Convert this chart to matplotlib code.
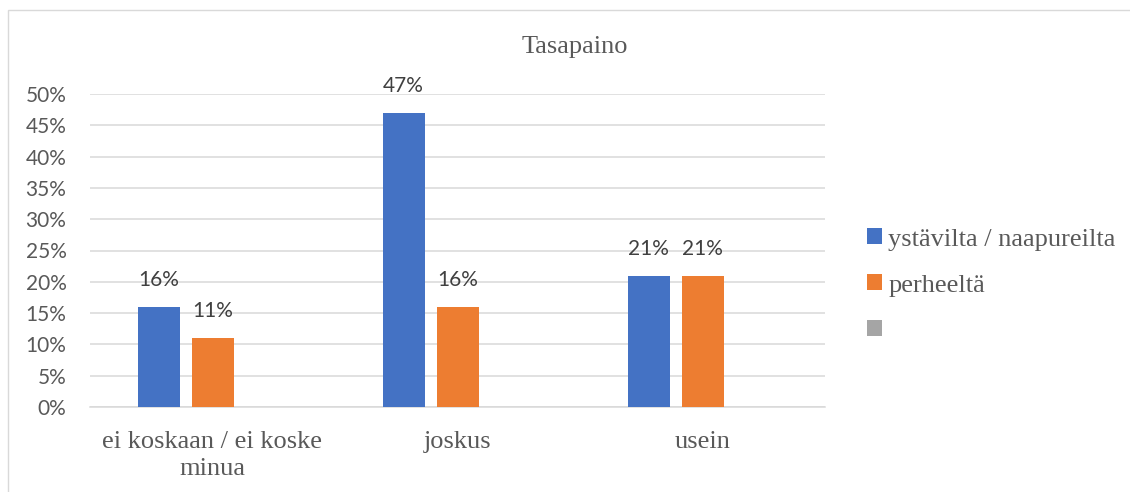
import numpy as np
import matplotlib
matplotlib.use("Agg")
import matplotlib.pyplot as plt
from matplotlib.patches import Patch, Rectangle

# chart values
categories = ["ei koskaan / ei koske\nminua", "joskus", "usein"]
series_names = ["ystävilta / naapureilta", "perheeltä", ""]
friends = [0.16, 0.47, 0.21]
family = [0.11, 0.16, 0.21]
third = [0.0, 0.0, 0.0]  # empty series, only shows up in the legend
yticks = np.arange(0, 0.51, 0.05)

COLORS = ["#4472C4", "#ED7D31", "#A5A5A5"]
SERIF = "Liberation Serif"
SANS = "Lato"

W, H = 1130, 492
fig = plt.figure(figsize=(W / 100, H / 100), dpi=100)
fig.patches.append(Rectangle((8 / W, -0.1), 1.2, 1 - 10 / H + 0.1,
                             transform=fig.transFigure, fill=False,
                             edgecolor="#d9d9d9", linewidth=1))

ax = fig.add_axes([90 / W, 1 - 407 / H, (825 - 90) / W, (407 - 94) / H])

x = np.arange(len(categories))
bw = 42 / 245
step = 54 / 245
values = [friends, family, third]
for i, (vals, col) in enumerate(zip(values, COLORS)):
    pos = x + (i - 1) * step
    if i == 2:
        continue
    bars = ax.bar(pos, vals, width=bw, color=col, zorder=3)
    for b, v in zip(bars, vals):
        ax.annotate(f"{v * 100:.0f}%", (b.get_x() + b.get_width() / 2, v),
                    xytext=(0, 12), textcoords="offset points",
                    ha="center", va="bottom", fontsize=15,
                    family=SANS, color="#404040")

ax.set_xlim(-0.5, 2.5)
ax.set_ylim(0, 0.5)
ax.set_yticks(yticks)
ax.set_yticklabels([f"{t * 100:.0f}%" for t in yticks], family=SANS,
                   fontsize=15, color="#595959")
ax.set_xticks(x)
ax.set_xticklabels(categories, family=SERIF, fontsize=19, color="#595959",
                   linespacing=1.3)
ax.tick_params(axis="y", length=0, pad=17)
ax.tick_params(axis="x", length=0, pad=17)
ax.yaxis.grid(True, color="#d9d9d9", linewidth=1.1, zorder=0)
for s in ["top", "left", "right"]:
    ax.spines[s].set_visible(False)
ax.spines["bottom"].set_color("#d9d9d9")
ax.spines["bottom"].set_linewidth(1.1)

fig.text(575 / W, 1 - 47 / H, "Tasapaino", ha="center", va="center",
         family=SERIF, fontsize=19, color="#595959")

handles = [Patch(facecolor=c, edgecolor="none") for c in COLORS]
fig.legend(handles, series_names, loc="center left",
           bbox_to_anchor=(867 / W, 1 - 285.5 / H), frameon=False,
           prop={"family": SERIF, "size": 19}, labelcolor="#595959",
           handlelength=0.55, handleheight=0.55, handletextpad=0.25,
           labelspacing=0.9, borderpad=0, borderaxespad=0)

fig.savefig("out.png", dpi=100)
